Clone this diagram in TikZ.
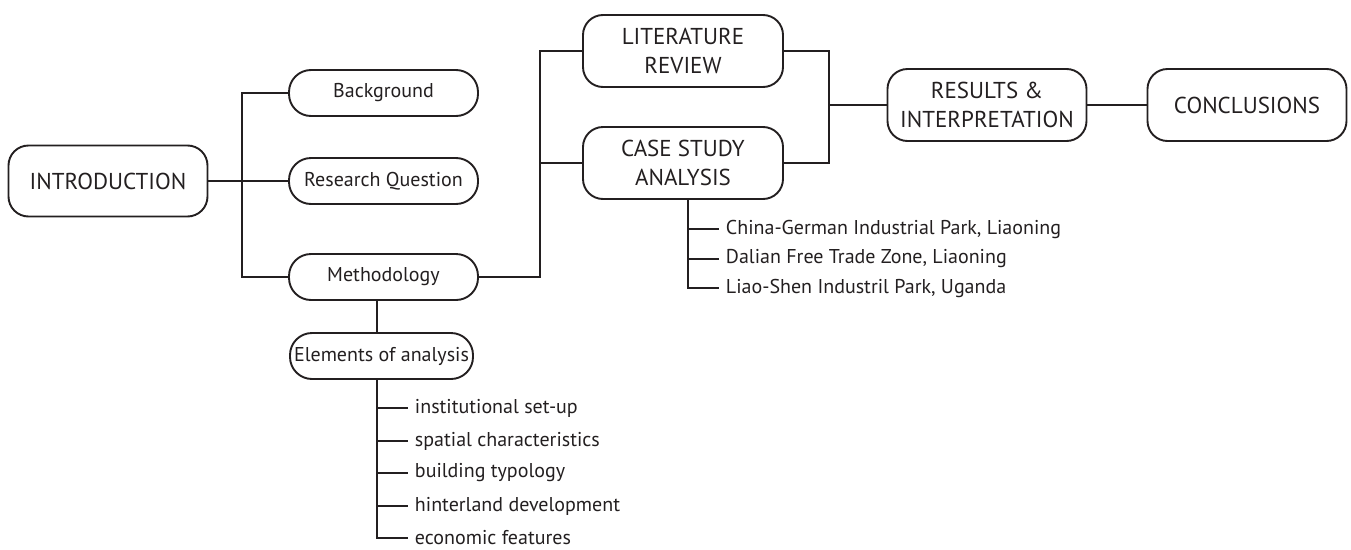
\documentclass[tikz,border=0pt]{standalone}
\usepackage{fontspec}
\setmainfont{PT Sans}
\definecolor{ink}{HTML}{231F20}
\begin{document}
\begin{tikzpicture}[x=1pt,y=-1pt,
  line width=1.9pt, text=ink,
  conn/.style={draw=ink, line width=1.9pt},
  bigbox/.style={draw=ink, line width=1.9pt, rectangle, rounded corners=20pt,
    minimum width=199pt, minimum height=72pt, align=center, inner sep=0pt,
    font=\fontsize{23}{29}\selectfont},
  pill/.style={draw=ink, line width=1.9pt, rectangle, rounded corners=22pt,
    minimum width=189pt, minimum height=46pt, inner sep=0pt,
    font=\fontsize{20}{22}\selectfont},
  leaf/.style={anchor=west, inner sep=6pt, font=\fontsize{20}{22}\selectfont}]
\useasboundingbox (0,0) rectangle (1351,549);

% main boxes
\node[bigbox, minimum height=71pt] (intro) at (108,181) {INTRODUCTION};
\node[bigbox, minimum width=200pt] (lit) at (683,51) {LITERATURE\\REVIEW};
\node[bigbox, minimum width=200pt] (case) at (683,163) {CASE STUDY\\ANALYSIS};
\node[bigbox] (res) at (987,105) {RESULTS \&\\INTERPRETATION};
\node[bigbox] (conc) at (1247,105) {CONCLUSIONS};

% introduction sub-topics
\node[pill] (bg) at (383.5,93) {Background};
\node[pill] (rq) at (383.5,181) {Research Question};
\node[pill] (meth) at (383.5,277) {Methodology};
\node[pill, minimum width=183pt] (elem) at (381.5,356) {Elements of analysis};

% case studies
\node[leaf] (c1) at (719,229) {China-German Industrial Park, Liaoning};
\node[leaf] (c2) at (719,259) {Dalian Free Trade Zone, Liaoning};
\node[leaf] (c3) at (719,288) {Liao-Shen Industril Park, Uganda};

% elements of analysis
\node[leaf] (e1) at (408,408) {institutional set-up};
\node[leaf] (e2) at (408,441) {spatial characteristics};
\node[leaf] (e3) at (408,473) {building typology};
\node[leaf] (e4) at (408,506) {hinterland development};
\node[leaf] (e5) at (408,538) {economic features};

% junction points of the buses
\coordinate (ja) at (242,181);
\coordinate (jb) at (540,163);
\coordinate (jc) at (829,105);
\coordinate (cs) at (688,0);
\coordinate (ms) at (377,0);

% connectors
\draw[conn] (intro.east) -- (rq.west);
\draw[conn] (bg.west) -| (ja) |- (meth.west);
\draw[conn] (meth.east) -| (jb) |- (lit.west);
\draw[conn] (jb) -- (case.west);
\draw[conn] (lit.east) -| (jc) |- (case.east);
\draw[conn] (jc) -- (res.west);
\draw[conn] (res.east) -- (conc.west);
\draw[conn] (meth.south -| ms) -- (elem.north -| ms);
\draw[conn] (case.south -| cs) |- (c3.west);
\draw[conn] (cs |- c1.west) -- (c1.west);
\draw[conn] (cs |- c2.west) -- (c2.west);
\draw[conn] (elem.south -| ms) |- (e5.west);
\foreach \n in {e1,e2,e3,e4} \draw[conn] (ms |- \n.west) -- (\n.west);
\end{tikzpicture}
\end{document}
